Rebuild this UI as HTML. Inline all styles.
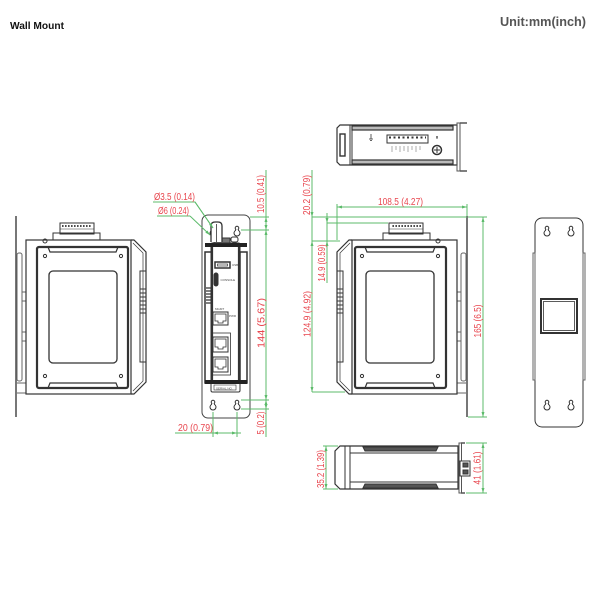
<!DOCTYPE html>
<html><head><meta charset="utf-8">
<style>
html,body{margin:0;padding:0;background:#fff;}
svg{display:block;}
.t{font-family:"Liberation Sans",Arial,sans-serif;}
.r{fill:#e8464e;font-size:10px;font-family:"Liberation Sans",Arial,sans-serif;}
</style></head>
<body>
<svg width="600" height="600" viewBox="0 0 600 600" xmlns="http://www.w3.org/2000/svg">
<defs>
 <marker id="a" viewBox="0 0 10 6" refX="10" refY="3" markerWidth="5" markerHeight="3" markerUnits="userSpaceOnUse" orient="auto-start-reverse">
  <path d="M0,0 L10,3 L0,6 z" fill="#5dbb6b"/>
 </marker>
 <g id="dev" fill="none" stroke="#333" stroke-width="1">
  <line x1="16" y1="216" x2="16" y2="417" stroke-width="1.6" stroke="#555"/>
  <rect x="17" y="253" width="5" height="128" rx="2" stroke="#666"/>
  <rect x="22" y="292" width="4" height="9" stroke="#666"/>
  <rect x="22" y="332" width="4" height="9" stroke="#666"/>
  <path d="M17,383 H26 M17,393 H26" stroke="#666"/>
  <rect x="26" y="240" width="105" height="154" stroke-width="1.2"/>
  <path d="M131,240 H134 L146,252 V382 L134,394 H131" stroke-width="1.2"/>
  <path d="M133,243 L143,253 V381 L133,391" stroke-width="0.7"/>
  <rect x="140" y="271" width="6" height="91"/>
  <path d="M140,289 H146 M140,293 H146 M140,297 H146 M140,301 H146 M140,305 H146 M140,309 H146 M140,313 H146" stroke-width="0.9"/>
  <rect x="37" y="247" width="91" height="141" rx="2" stroke-width="2.2"/>
  <path d="M48,247 L50,252 H116 L118,247" stroke-width="1.2"/>
  <path d="M48,388 L50,383 H116 L118,388" stroke-width="1.2"/>
  <rect x="49" y="271" width="68" height="92" rx="4" stroke-width="1.3"/>
  <circle cx="45" cy="256" r="1.6"/><circle cx="121" cy="256" r="1.6"/>
  <circle cx="45" cy="376" r="1.6"/><circle cx="121" cy="376" r="1.6"/>
  <rect x="60" y="223" width="34" height="11"/>
  <path d="M62,226 H92" stroke-dasharray="1.6 1.4" stroke-width="1.8"/>
  <path d="M60,229 H94" stroke-width="0.6"/>
  <rect x="53" y="233" width="47" height="7"/>
  <circle cx="45" cy="241" r="2"/>
 </g>
</defs>

<!-- headers -->
<text x="10" y="29" class="t" font-size="10" font-weight="bold" fill="#111" textLength="54" lengthAdjust="spacingAndGlyphs">Wall Mount</text>
<text x="500" y="26" class="t" font-size="13" font-weight="bold" fill="#555" textLength="86" lengthAdjust="spacingAndGlyphs">Unit:mm(inch)</text>

<!-- left device and front view -->
<use href="#dev"/>
<use href="#dev" transform="translate(483,0) scale(-1,1)"/>

<!-- middle side view -->
<g fill="none" stroke="#333" stroke-width="1">
 <rect x="202" y="215" width="48" height="203" rx="6" stroke="#444"/>
 <path d="M211.8,229.4 A1.8,1.8 0 1 1 214.2,229.4 L214.6,230.5 A3,3 0 1 1 211.4,230.5 Z"/>
 <path d="M235.8,229.4 A1.8,1.8 0 1 1 238.2,229.4 L238.6,230.5 A3,3 0 1 1 235.4,230.5 Z"/>
 <path d="M211.8,403.4 A1.8,1.8 0 1 1 214.2,403.4 L214.6,404.5 A3,3 0 1 1 211.4,404.5 Z"/>
 <path d="M235.8,403.4 A1.8,1.8 0 1 1 238.2,403.4 L238.6,404.5 A3,3 0 1 1 235.4,404.5 Z"/>
 <rect x="205" y="252" width="7" height="131" stroke-width="1.5"/>
 <rect x="240" y="252" width="7" height="131" stroke-width="1.5"/>
 <path d="M206,288 H211 M206,291 H211 M206,294 H211 M206,297 H211 M206,300 H211 M206,303 H211" stroke-width="1.2"/>
 <rect x="211" y="243" width="29" height="149" rx="1.5" fill="#fff"/>
 <line x1="212" y1="247" x2="212" y2="383" stroke-width="2.2"/>
 <line x1="239" y1="247" x2="239" y2="383" stroke-width="2.2"/>
 <rect x="205" y="243" width="42" height="4" fill="#222" stroke="none"/>
 <rect x="205" y="380" width="42" height="4" fill="#222" stroke="none"/>
 <rect x="214" y="238" width="16" height="5" fill="#777" stroke="#333"/>
 <rect x="231" y="237" width="7" height="5" rx="2"/>
 <path d="M211,242 V226 Q211,222 215,222 H218 Q222,222 222,226 V242" fill="#fff" stroke-width="1.3"/>
 <line x1="216.5" y1="224" x2="216.5" y2="242" stroke-width="0.8"/>
 <rect x="215" y="262" width="15" height="6" stroke-width="1.5"/>
 <rect x="217.5" y="264" width="10" height="2" stroke-width="0.7"/>
 <rect x="214" y="273" width="4" height="13" rx="2" fill="#333"/>
 <rect x="213" y="312" width="15" height="13"/>
 <path d="M215,314 H226 V321 H223 V323 H218 V321 H215 Z" stroke-width="0.8"/>
 <rect x="211.5" y="333" width="19" height="42" stroke-width="0.8"/>
 <rect x="213" y="337" width="15" height="15"/>
 <path d="M215,339 H226 V347 H223 V349 H218 V347 H215 Z" stroke-width="0.8"/>
 <rect x="213" y="357" width="15" height="15"/>
 <path d="M215,359 H226 V367 H223 V369 H218 V367 H215 Z" stroke-width="0.8"/>
 <rect x="214" y="385" width="22" height="5" stroke-width="0.6"/>
</g>
<g class="t" font-size="3" fill="#444">
 <text x="232" y="266">USB</text>
 <text x="220.5" y="281">CONSOLE</text>
 <text x="215" y="310">MGMT</text>
 <text x="229" y="317">PWR</text>
 <text x="216" y="389.5">SERIAL NO.</text>
</g>

<!-- top view -->
<g fill="none" stroke="#333" stroke-width="1">
 <path d="M340,125 H457 V165 H340 L337,162 V128 Z" stroke-width="1.2"/>
 <line x1="350" y1="125" x2="350" y2="165"/>
 <line x1="352" y1="125" x2="352" y2="165"/>
 <rect x="352" y="126" width="101" height="4" fill="#bbb" stroke-width="1.2"/>
 <rect x="352" y="160" width="101" height="4" fill="#bbb" stroke-width="1.2"/>
 <rect x="340" y="134" width="5" height="22" stroke-width="1.4"/>
 <rect x="457" y="123" width="3" height="48" stroke="#555"/>
 <path d="M460,123 H467 M460,171 H467" stroke-width="1.5" stroke="#555"/>
 <rect x="387" y="135" width="41" height="8"/>
 <path d="M389,137.5 H426" stroke-dasharray="2 2.5" stroke-width="2"/>
 <path d="M392,146 V152 M396,146 V150 M400,146 V152 M404,146 V151 M408,146 V152 M412,146 V150 M416,146 V152 M420,146 V150" stroke="#999" stroke-width="0.8"/>
 <path d="M371,134 V139 M369,139 H373 M370,140.5 H372" stroke-width="0.8"/>
 <circle cx="437" cy="150" r="4.5" stroke-width="1.5"/>
 <path d="M434,150 H440 M437,147 V153"/>
 <path d="M436,137 h2 M437,136 v3" stroke-width="0.8"/>
</g>

<!-- bottom view -->
<g fill="none" stroke="#333" stroke-width="1">
 <path d="M340,446 H458 V489 H340 L335,484 V451 Z" stroke-width="1.2"/>
 <line x1="345" y1="446" x2="345" y2="489"/>
 <line x1="350" y1="446" x2="350" y2="489"/>
 <path d="M363,447 H438 L436,451 H365 Z" fill="#555"/>
 <path d="M363,488 H438 L436,484 H365 Z" fill="#555"/>
 <line x1="350" y1="453" x2="458" y2="453"/>
 <line x1="350" y1="482" x2="458" y2="482"/>
 <rect x="459" y="443" width="2.5" height="50" stroke="#555"/>
 <path d="M461,443 H465 M461,493 H465" stroke-width="1.5" stroke="#555"/>
 <rect x="460" y="461" width="10" height="15" fill="#fff"/>
 <rect x="463" y="463" width="5" height="4" fill="#555"/>
 <rect x="463" y="470" width="5" height="4" fill="#555"/>
</g>

<!-- right wall plate -->
<g fill="none" stroke="#333" stroke-width="1">
 <rect x="535" y="218" width="48" height="209" rx="7"/>
 <rect x="533" y="253" width="2" height="127" stroke="#666"/>
 <rect x="583" y="253" width="2" height="127" stroke="#666"/>
 <rect x="541" y="299" width="36" height="34" stroke-width="2"/>
 <rect x="543.5" y="301.5" width="31" height="29" stroke-width="0.8"/>
 <path d="M545.8,229.4 A1.8,1.8 0 1 1 548.2,229.4 L548.6,230.5 A3,3 0 1 1 545.4,230.5 Z"/>
 <path d="M569.8,229.4 A1.8,1.8 0 1 1 572.2,229.4 L572.6,230.5 A3,3 0 1 1 569.4,230.5 Z"/>
 <path d="M545.8,403.4 A1.8,1.8 0 1 1 548.2,403.4 L548.6,404.5 A3,3 0 1 1 545.4,404.5 Z"/>
 <path d="M569.8,403.4 A1.8,1.8 0 1 1 572.2,403.4 L572.6,404.5 A3,3 0 1 1 569.4,404.5 Z"/>
</g>

<!-- dimension lines -->
<g stroke="#5dbb6b" stroke-width="1" fill="none">
 <!-- middle -->
 <line x1="266" y1="170" x2="266" y2="217"/>
 <line x1="266" y1="217" x2="266" y2="230" marker-start="url(#a)" marker-end="url(#a)"/>
 <line x1="266" y1="230" x2="266" y2="400" marker-start="url(#a)" marker-end="url(#a)"/>
 <line x1="266" y1="400" x2="266" y2="409" marker-start="url(#a)" marker-end="url(#a)"/>
 <line x1="266" y1="409" x2="266" y2="437"/>
 <path d="M250,217 H269 M241,230 H269 M241,400 H269 M241,409 H269"/>
 <path d="M213,412 V437 M237,412 V437"/>
 <line x1="175" y1="433" x2="213" y2="433"/>
 <line x1="213" y1="433" x2="237" y2="433" marker-start="url(#a)" marker-end="url(#a)"/>
 <line x1="237" y1="433" x2="241" y2="433"/>
 <path d="M153,202 H195 L213,228" />
 <line x1="195" y1="202" x2="213" y2="228" marker-end="url(#a)"/>
 <path d="M157,216 H190"/>
 <line x1="190" y1="216" x2="210" y2="235" marker-end="url(#a)"/>
 <!-- front -->
 <line x1="337" y1="207" x2="467" y2="207" marker-start="url(#a)" marker-end="url(#a)"/>
 <path d="M337,204 V240 M467,204 V216"/>
 <line x1="312" y1="170" x2="312" y2="217" marker-end="url(#a)"/>
 <line x1="312" y1="217" x2="312" y2="241"/>
 <line x1="312" y1="241" x2="312" y2="392" marker-start="url(#a)" marker-end="url(#a)"/>
 <line x1="327" y1="213" x2="327" y2="223" marker-end="url(#a)"/>
 <line x1="327" y1="223" x2="327" y2="241"/>
 <line x1="327" y1="283" x2="327" y2="241" marker-end="url(#a)"/>
 <path d="M312,217 H467 M327,223 H388 M312,241 H340 M312,392 H345"/>
 <line x1="483" y1="217" x2="483" y2="417" marker-start="url(#a)" marker-end="url(#a)"/>
 <path d="M468,217 H487 M468,417 H487"/>
 <!-- bottom -->
 <line x1="326" y1="446" x2="326" y2="489" marker-start="url(#a)" marker-end="url(#a)"/>
 <path d="M323,446 H338 M323,489 H338"/>
 <line x1="483" y1="443" x2="483" y2="493" marker-start="url(#a)" marker-end="url(#a)"/>
 <path d="M466,443 H487 M466,493 H487"/>
</g>

<!-- dimension texts -->
<text class="r" x="154" y="200" textLength="41" lengthAdjust="spacingAndGlyphs">Ø3.5 (0.14)</text>
<text class="r" x="158" y="214" textLength="31" lengthAdjust="spacingAndGlyphs">Ø6 (0.24)</text>
<text class="r" x="178" y="431" textLength="35" lengthAdjust="spacingAndGlyphs">20 (0.79)</text>
<text class="r" x="400.5" y="205" text-anchor="middle" textLength="45" lengthAdjust="spacingAndGlyphs">108.5 (4.27)</text>
<text class="r" transform="translate(264,194) rotate(-90)" text-anchor="middle" textLength="38" lengthAdjust="spacingAndGlyphs">10.5 (0.41)</text>
<text class="r" transform="translate(264.5,323) rotate(-90)" text-anchor="middle" font-size="11" textLength="50" lengthAdjust="spacingAndGlyphs">144 (5.67)</text>
<text class="r" transform="translate(264,423) rotate(-90)" text-anchor="middle" textLength="23" lengthAdjust="spacingAndGlyphs">5 (0.2)</text>
<text class="r" transform="translate(310,195) rotate(-90)" text-anchor="middle" textLength="40" lengthAdjust="spacingAndGlyphs">20.2 (0.79)</text>
<text class="r" transform="translate(325,263) rotate(-90)" text-anchor="middle" textLength="37" lengthAdjust="spacingAndGlyphs">14.9 (0.59)</text>
<text class="r" transform="translate(310.5,314) rotate(-90)" text-anchor="middle" textLength="46" lengthAdjust="spacingAndGlyphs">124.9 (4.92)</text>
<text class="r" transform="translate(481,321) rotate(-90)" text-anchor="middle" textLength="33" lengthAdjust="spacingAndGlyphs">165 (6.5)</text>
<text class="r" transform="translate(324,469) rotate(-90)" text-anchor="middle" textLength="38" lengthAdjust="spacingAndGlyphs">35.2 (1.39)</text>
<text class="r" transform="translate(480.5,468) rotate(-90)" text-anchor="middle" textLength="33" lengthAdjust="spacingAndGlyphs">41 (1.61)</text>
</svg>
</body></html>
